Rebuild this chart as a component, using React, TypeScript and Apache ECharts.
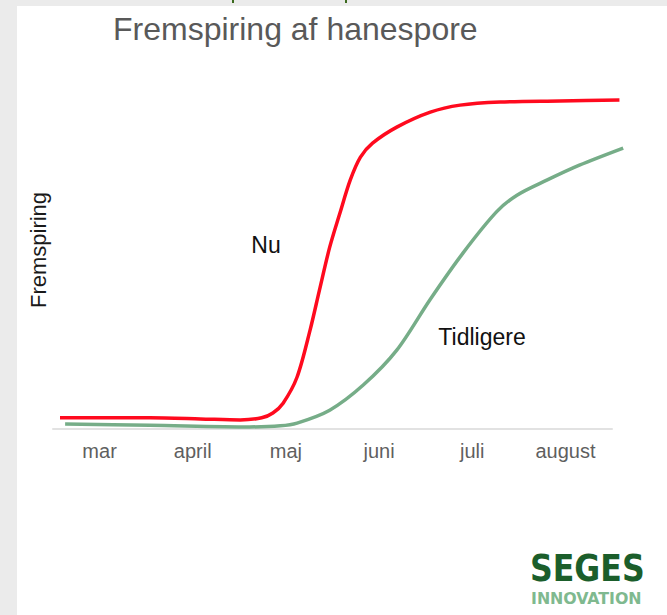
import React, { useEffect, useRef } from "react";
import * as echarts from "echarts";

const months = ["mar", "april", "maj", "juni", "juli", "august"];

// x in month units (0 = start of "mar" band), y = relative emergence
const nuX = [0.075, 1.04, 1.58, 2.01, 2.24, 2.36, 2.47, 2.62, 2.76, 2.86, 2.97, 3.08, 3.19, 3.3, 3.43, 3.69, 4.05, 4.37, 4.8, 5.44, 6.08];
const nuY = [3.2, 3.2, 2.9, 2.6, 3.2, 4.6, 7.4, 14.9, 28.4, 39.8, 52.1, 61.9, 71.3, 77.9, 81.9, 86.5, 90.8, 92.8, 93.7, 94.0, 94.3];

const tidligereX = [0.13, 1.04, 2.11, 2.44, 2.62, 2.97, 3.33, 3.69, 4.05, 4.4, 4.76, 4.98, 5.3, 5.65, 6.12];
const tidligereY = [1.4, 1.1, 0.6, 0.9, 1.7, 5.4, 12.6, 22.6, 37.2, 50.4, 62.2, 67.0, 71.3, 75.6, 80.5];

const titleText = "Fremspiring af hanespore";
const yName = "Fremspiring";
const seriesNames = ["Nu", "Tidligere"];

const zip = (xs: number[], ys: number[]) => xs.map((x, i) => [x, ys[i]]);

export default function App() {
  const ref = useRef<HTMLDivElement>(null);
  useEffect(() => {
    if (!ref.current) return;
    const chart = echarts.init(ref.current, null, { renderer: "svg" });
    const font = "'Liberation Sans', Arial, sans-serif";
    const logoFont = "'Liberation Sans Narrow', 'DejaVu Sans Condensed', sans-serif";
    const bandW = (667 - 55 - 53) / months.length;
    const lineRight = 40;
    const lineMax = (667 - lineRight - 53) / bandW;
    chart.setOption({
      animation: false,
      backgroundColor: "#ebebeb",
      title: {
        text: titleText,
        left: 108,
        top: 8,
        textStyle: { fontFamily: font, fontSize: 32, fontWeight: "normal", color: "#595959" },
      },
      grid: [
        { left: 53, right: 55, top: 80, bottom: 186 },
        { left: 53, right: lineRight, top: 80, bottom: 186 },
      ],
      xAxis: [
        {
          type: "category",
          gridIndex: 0,
          data: months,
          boundaryGap: true,
          axisLine: { lineStyle: { color: "#e2e2e2", width: 2 } },
          axisTick: { show: false },
          axisLabel: { fontFamily: font, fontSize: 20, color: "#5f5f5f", margin: 12 },
          splitLine: { show: false },
        },
        { type: "value", gridIndex: 1, min: 0, max: lineMax, show: false },
      ],
      yAxis: [
        { type: "value", gridIndex: 0, min: 0, max: 100, show: false },
        { type: "value", gridIndex: 1, min: 0, max: 100, show: false },
      ],
      graphic: [
        { type: "rect", z: -10, silent: true, shape: { x: 17, y: 6, width: 660, height: 620 }, style: { fill: "#ffffff" } },
        { type: "rect", z: -5, shape: { x: 232, y: 0, width: 2, height: 3 }, style: { fill: "#3c6a1e" } },
        { type: "rect", z: -5, shape: { x: 345, y: 0, width: 2, height: 3 }, style: { fill: "#3c6a1e" } },
        {
          type: "text", x: 38, y: 250, rotation: Math.PI / 2,
          style: { text: yName, font: `22px ${font}`, fill: "#1a1a1a", align: "center", verticalAlign: "middle" },
        },
        {
          type: "text", x: 266, y: 245,
          style: { text: seriesNames[0], font: `23px ${font}`, fill: "#111111", align: "center", verticalAlign: "middle" },
        },
        {
          type: "text", x: 482, y: 337,
          style: { text: seriesNames[1], font: `23px ${font}`, fill: "#111111", align: "center", verticalAlign: "middle" },
        },
        {
          type: "text", x: 530, y: 569, scaleX: 0.95,
          style: { text: "SEGES", font: `bold 37px ${logoFont}`, fill: "#1b5e2b", align: "left", verticalAlign: "middle" },
        },
        {
          type: "text", x: 531, y: 598, scaleX: 1.1,
          style: { text: "INNOVATION", font: `bold 16px ${logoFont}`, fill: "#7fb98f", align: "left", verticalAlign: "middle" },
        },
      ],
      series: [
        {
          name: seriesNames[0],
          type: "line",
          xAxisIndex: 1,
          yAxisIndex: 1,
          data: zip(nuX, nuY),
          smooth: 0.3,
          showSymbol: false,
          lineStyle: { color: "#ff0a1e", width: 3.5 },
        },
        {
          name: seriesNames[1],
          type: "line",
          xAxisIndex: 1,
          yAxisIndex: 1,
          data: zip(tidligereX, tidligereY),
          smooth: 0.3,
          showSymbol: false,
          lineStyle: { color: "#76ad88", width: 3.5 },
        },
      ],
    });
    return () => chart.dispose();
  }, []);
  return <div ref={ref} style={{ position: "fixed", left: 0, top: 0, width: 667, height: 615 }} />;
}
